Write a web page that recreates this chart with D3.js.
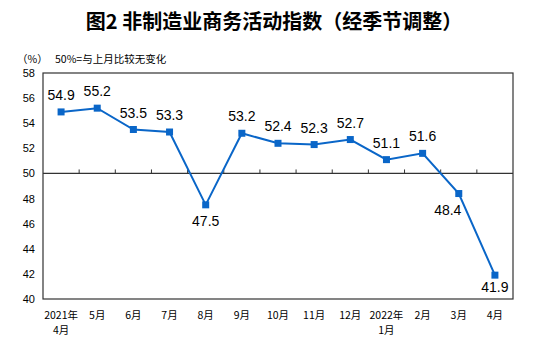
<!DOCTYPE html>
<html>
<head>
<meta charset="utf-8">
<script src="https://cdn.jsdelivr.net/npm/d3@7"></script>
<style>
  body { margin: 0; background: #fff; }
  svg { display: block; }
</style>
</head>
<body>
<div id="chart"></div>
<script>
var categories = ["2021年\n4月", "5月", "6月", "7月", "8月", "9月", "10月", "11月", "12月", "2022年\n1月", "2月", "3月", "4月"];
var values = [54.9, 55.2, 53.5, 53.3, 47.5, 53.2, 52.4, 52.3, 52.7, 51.1, 51.6, 48.4, 41.9];
var yTicks = [40, 42, 44, 46, 48, 50, 52, 54, 56, 58];

var width = 553, height = 343;
var margin = {top: 73, right: 40, bottom: 44, left: 43};
var lineColor = "#0a66c8";
var cjk = "'Noto Sans CJK SC', 'Noto Sans', sans-serif";
var latin = "'Liberation Sans', Arial, sans-serif";

var svg = d3.select("#chart").append("svg")
  .attr("width", width)
  .attr("height", height);

// title
svg.append("text")
  .attr("x", 274)
  .attr("y", 29)
  .attr("text-anchor", "middle")
  .style("font-family", cjk)
  .style("font-weight", "bold")
  .style("font-size", "20px")
  .style("fill", "#000")
  .text("图2  非制造业商务活动指数（经季节调整）");

svg.append("text")
  .attr("x", 17)
  .attr("y", 63)
  .style("font-family", cjk)
  .style("font-size", "10.5px")
  .text("（%）");

svg.append("text")
  .attr("x", 55)
  .attr("y", 63)
  .style("font-family", cjk)
  .style("font-size", "10.5px")
  .text("50%=与上月比较无变化");

var x = d3.scaleBand()
  .domain(categories)
  .range([margin.left, width - margin.right]);

var y = d3.scaleLinear()
  .domain([40, 58])
  .range([height - margin.bottom, margin.top]);

var g = svg.append("g");

// frame
g.append("rect")
  .attr("x", margin.left)
  .attr("y", margin.top)
  .attr("width", width - margin.left - margin.right)
  .attr("height", height - margin.top - margin.bottom)
  .attr("fill", "none")
  .attr("stroke", "#333")
  .attr("stroke-width", 1.2);

// y axis labels
var yAxis = d3.axisLeft(y).tickValues(yTicks).tickSize(0).tickPadding(8);
g.append("g")
  .attr("transform", "translate(" + margin.left + ",0)")
  .call(yAxis)
  .call(function(s) { s.select(".domain").remove(); })
  .selectAll("text")
  .style("font-family", latin)
  .style("font-size", "11px")
  .style("fill", "#000");

// 50 line with ticks between categories
var y50 = y(50);
g.append("line")
  .attr("x1", margin.left)
  .attr("x2", width - margin.right)
  .attr("y1", y50)
  .attr("y2", y50)
  .attr("stroke", "#333")
  .attr("stroke-width", 1.2);

g.selectAll(".tick50")
  .data(categories.slice(1))
  .enter()
  .append("line")
  .attr("x1", function(d) { return x(d); })
  .attr("x2", function(d) { return x(d); })
  .attr("y1", y50)
  .attr("y2", y50 - 4)
  .attr("stroke", "#333")
  .attr("stroke-width", 1);

// x labels
var xl = g.selectAll(".xlab")
  .data(categories)
  .enter()
  .append("text")
  .attr("text-anchor", "middle")
  .style("font-family", cjk)
  .style("font-size", "10.5px")
  .style("fill", "#000");

xl.each(function(d) {
  var cx = x(d) + x.bandwidth() / 2;
  var lines = d.split("\n");
  var t = d3.select(this);
  lines.forEach(function(s, i) {
    t.append("tspan")
      .attr("x", cx)
      .attr("y", 319 + i * 15)
      .text(s);
  });
});

// line
var pts = values.map(function(v, i) {
  return {v: v, cx: x(categories[i]) + x.bandwidth() / 2, cy: y(v), i: i};
});

g.append("path")
  .datum(pts)
  .attr("fill", "none")
  .attr("stroke", lineColor)
  .attr("stroke-width", 2)
  .attr("d", d3.line().x(function(d) { return d.cx; }).y(function(d) { return d.cy; }));

g.selectAll(".mk")
  .data(pts)
  .enter()
  .append("rect")
  .attr("x", function(d) { return d.cx - 3.5; })
  .attr("y", function(d) { return d.cy - 3.5; })
  .attr("width", 7)
  .attr("height", 7)
  .attr("fill", lineColor);

// value labels: above the point, or below when under 50
g.selectAll(".vl")
  .data(pts)
  .enter()
  .append("text")
  .attr("text-anchor", "middle")
  .attr("x", function(d) {
    var next = values[d.i + 1];
    if (d.v < 50 && next !== undefined && next < d.v) return d.cx - 11;
    return d.cx;
  })
  .attr("y", function(d) {
    if (d.v < 50) return Math.min(d.cy + 21, 292);
    return d.cy - 12;
  })
  .style("font-family", latin)
  .style("font-size", "14px")
  .style("fill", "#000")
  .text(function(d) { return d3.format(".1f")(d.v); });
</script>
</body>
</html>
